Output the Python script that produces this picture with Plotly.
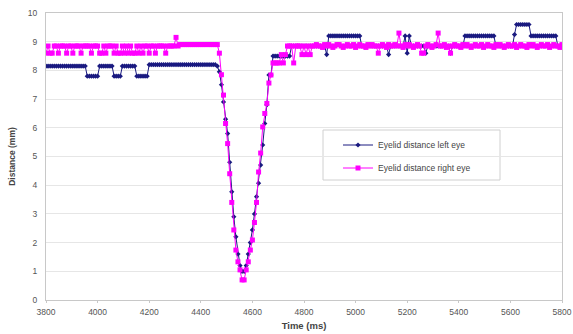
import numpy as np
import plotly.graph_objects as go

# ---- data (sampled every 8 ms from 3800 ms) ----
T_START = 3800
T_STEP = 8

LEFT_EYE = (
    [8.15] * 20 + [7.8] * 6 + [8.15] * 7 + [7.8] * 4 + [8.15] * 7 + [7.8] * 6 + [8.2] * 33
    + [8.15, 7.95, 7.5, 6.9, 6.3, 5.8, 4.8, 3.77, 2.9, 2.2, 1.6, 1.2, 1.0,
       1.0, 1.2, 1.6, 2.0, 2.44, 3.0, 3.6, 4.07, 4.7, 5.4, 6.15, 6.8, 7.84]
    + [7.84] + [8.5] * 9 + [8.85] * 17 + [8.55] + [9.2] * 16 + [8.85] * 13 + [8.55]
    + [8.85] * 7 + [9.2, 8.6, 9.2, 8.85] + [8.85] * 6 + [8.6] + [8.85] * 11 + [8.6]
    + [8.85] * 6 + [9.2] * 15 + [8.85] * 9 + [9.25] + [9.6] * 7 + [9.2] * 13 + [8.85] * 3
)

RIGHT_EYE = (
    [8.6, 8.85, 8.6, 8.6, 8.85, 8.85, 8.6, 8.85, 8.85, 8.85,
     8.6, 8.85, 8.85, 8.6, 8.85, 8.85, 8.85, 8.6, 8.85, 8.85,
     8.85, 8.85, 8.6, 8.85, 8.85, 8.85, 8.6, 8.6, 8.85, 8.6,
     8.85, 8.85, 8.85, 8.6, 8.85, 8.6, 8.6, 8.85, 8.6, 8.85,
     8.6, 8.85, 8.6, 8.6, 8.85, 8.6, 8.85, 8.6, 8.85, 8.85,
     8.6, 8.85, 8.85, 8.6, 8.85, 8.85, 8.85, 8.85, 8.6, 8.85,
     8.85, 8.85, 8.85, 9.15, 8.85]
    + [8.9] * 18
    + [8.9, 8.6, 7.85, 7.14, 6.15, 5.45, 4.4, 3.4, 2.44, 1.74, 1.33, 1.05, 0.7, 0.7,
       1.05, 1.33, 1.74, 2.09, 2.7, 3.4, 4.46, 5.12, 6.03, 6.5, 6.85, 7.56, 7.84, 8.26]
    + [8.26, 8.26, 8.26, 8.55, 8.26, 8.55, 8.85, 8.85, 8.85, 8.26,
       8.85, 8.85, 8.85, 8.55, 8.85, 8.55, 8.85, 8.55, 8.85]
    + [8.85, 8.9, 8.85, 8.85, 8.8, 8.9, 8.85, 8.9, 8.85, 8.8,
       8.85, 8.9, 8.9, 8.85, 8.8, 8.85, 8.9, 8.85, 8.85, 8.9,
       8.8, 8.85, 8.9, 8.85, 8.85, 8.8, 8.9, 8.85, 8.9, 8.85,
       8.85]
    + [8.6]
    + [8.85, 8.9, 8.85, 8.8, 8.9, 8.85, 8.85, 8.9, 8.85]
    + [9.3]
    + [8.85, 8.8, 8.9, 8.85, 8.9, 8.85, 8.8, 8.85, 8.9, 8.85]
    + [8.6, 8.6]
    + [8.85, 8.9, 8.85, 8.8, 8.85, 8.9]
    + [9.3]
    + [8.85, 8.85, 8.9, 8.8, 8.85]
    + [8.6]
    + [8.85, 8.9, 8.85, 8.85, 8.8, 8.9, 8.85, 8.9, 8.85, 8.8,
       8.85, 8.9, 8.85, 8.85, 8.9, 8.8, 8.85, 8.9, 8.85, 8.85,
       8.8, 8.9, 8.85, 8.9, 8.85, 8.8, 8.85, 8.9, 8.85, 8.85,
       8.9, 8.8, 8.85, 8.9, 8.85, 8.85, 8.8, 8.9, 8.85, 8.9,
       8.85, 8.8, 8.85, 8.9, 8.85, 8.85, 8.9, 8.8, 8.85, 8.9,
       8.85, 8.85, 8.8, 8.9]
)

X_TICKS = [3800, 4000, 4200, 4400, 4600, 4800, 5000, 5200, 5400, 5600, 5800]
Y_TICKS = [0, 1, 2, 3, 4, 5, 6, 7, 8, 9, 10]

t_left = T_START + T_STEP * np.arange(len(LEFT_EYE))
t_right = T_START + T_STEP * np.arange(len(RIGHT_EYE))

FONT = "Liberation Sans, Arial, sans-serif"
NAVY = "#1a1a80"
MAGENTA = "#ff00ff"

fig = go.Figure()
fig.add_trace(go.Scatter(
    x=t_left, y=LEFT_EYE, mode="lines+markers", name="Eyelid distance left eye",
    line=dict(color=NAVY, width=1),
    marker=dict(symbol="diamond", size=4, color=NAVY),
    legend="legend",
))
fig.add_trace(go.Scatter(
    x=t_right, y=RIGHT_EYE, mode="lines+markers", name="Eyelid distance right eye",
    line=dict(color=MAGENTA, width=1),
    marker=dict(symbol="square", size=5, color=MAGENTA),
    legend="legend2",
))

W, H = 573, 334
L, R, T, B = 46, 11, 13, 34
pw, ph = W - L - R, H - T - B


def px_x(p):
    return (p - L) / pw


def px_y(p):
    return (H - B - p) / ph


fig.update_layout(
    width=W, height=H,
    margin=dict(l=L, r=R, t=T, b=B, autoexpand=False),
    paper_bgcolor="white", plot_bgcolor="white",
    font=dict(family=FONT, size=8, color="#555555"),
    showlegend=True,
    legend=dict(x=px_x(338), y=px_y(145), xanchor="left", yanchor="middle",
                bgcolor="rgba(0,0,0,0)", borderwidth=0,
                font=dict(size=8.5, color="#444444")),
    legend2=dict(x=px_x(338), y=px_y(168), xanchor="left", yanchor="middle",
                 bgcolor="rgba(0,0,0,0)", borderwidth=0,
                 font=dict(size=8.5, color="#444444")),
    shapes=[dict(type="rect", xref="paper", yref="paper",
                 x0=px_x(323), x1=px_x(500), y0=px_y(180), y1=px_y(130),
                 line=dict(color="#d0d0d0", width=1), fillcolor="white", layer="below")],
    xaxis=dict(range=[3800, 5800], tickvals=X_TICKS, ticktext=[str(v) for v in X_TICKS],
               automargin=False,
               showgrid=False, zeroline=False,
               showline=True, linecolor="#c8c8c8", linewidth=1, mirror=True,
               ticks="outside", ticklen=2, tickcolor="#c8c8c8",
               ticklabelstandoff=2,
               tickfont=dict(size=8.5, color="#555555"),
               title=dict(text="<b>Time (ms)</b>", font=dict(size=9.5, color="#444444"), standoff=6)),
    yaxis=dict(range=[0, 10], tickvals=Y_TICKS, ticktext=[str(v) for v in Y_TICKS],
               automargin=False,
               showgrid=True, gridcolor="#e6e6e6", gridwidth=1, zeroline=False,
               showline=True, linecolor="#c8c8c8", linewidth=1, mirror=True,
               ticks="", ticklabelstandoff=6,
               tickfont=dict(size=8.5, color="#555555"),
               title=dict(text="<b>Distance (mm)</b>", font=dict(size=8.5, color="#444444"), standoff=10)),
)

fig.write_html("out.html")
